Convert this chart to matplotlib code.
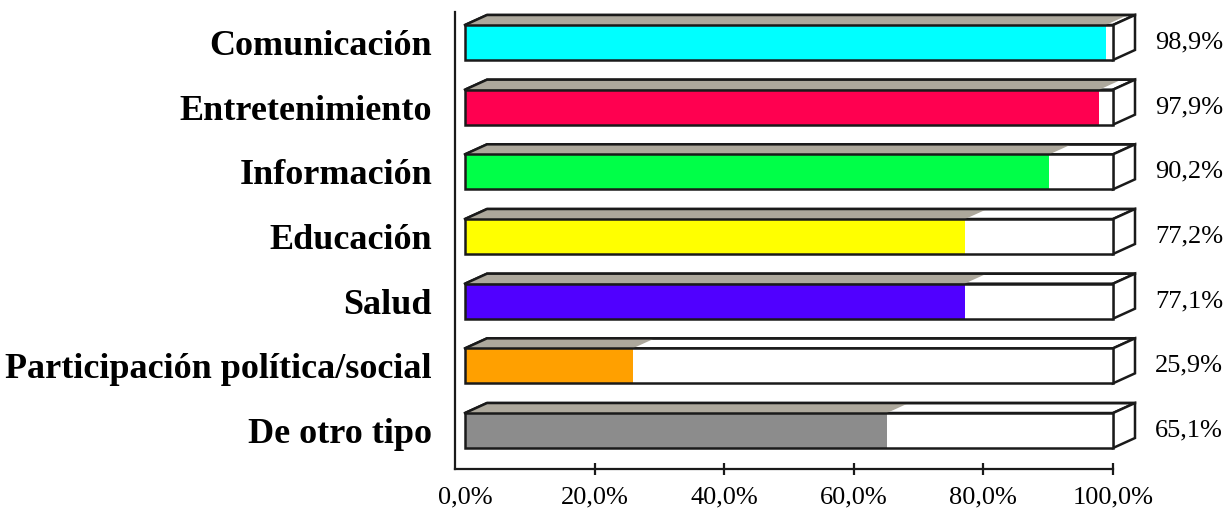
import matplotlib.pyplot as plt
from matplotlib.patches import Polygon, Rectangle

categories = ['Comunicación', 'Entretenimiento', 'Información', 'Educación',
              'Salud', 'Participación política/social', 'De otro tipo']
values = [98.9, 97.9, 90.2, 77.2, 77.1, 25.9, 65.1]
colors = ['#00FFFF', '#FF0050', '#00FF48', '#FFFF00', '#5000FF', '#FFA000', '#8C8C8C']
ticks = [0, 20, 40, 60, 80, 100]
tick_labels = ['0,0%', '20,0%', '40,0%', '60,0%', '80,0%', '100,0%']

W, H = 1223, 512
fig = plt.figure(figsize=(W / 100, H / 100), dpi=100)

# axes placed in pixel terms: spine at x=455, bars 0% at 465, 100% at 1113
px_per_unit = (1113 - 465) / 100
left_px, right_px = 455, 1150
top_px, bottom_px = 12, 469
ax = fig.add_axes([left_px / W, 1 - bottom_px / H,
                   (right_px - left_px) / W, (bottom_px - top_px) / H])
ax.set_xlim((left_px - 465) / px_per_unit, (right_px - 465) / px_per_unit)

pitch = 64.7
ax.set_ylim(6 + 38.5 / pitch, -30.5 / pitch)

bar_h = 35 / pitch
dx = 22 / px_per_unit
dy = 10 / pitch
edge = '#1a1a1a'
lw = 1.8
top_gray = '#ADA89C'

for i, (v, c) in enumerate(zip(values, colors)):
    top = i - bar_h / 2
    bot = i + bar_h / 2
    # top face and right side of the full 100% box
    ax.add_patch(Polygon([(0, top), (dx, top - dy), (100 + dx, top - dy), (100, top)],
                         closed=True, facecolor='white', edgecolor=edge, lw=lw, zorder=2))
    ax.add_patch(Polygon([(100, top), (100 + dx, top - dy), (100 + dx, bot - dy), (100, bot)],
                         closed=True, facecolor='white', edgecolor=edge, lw=lw, zorder=2))
    # shaded top of the filled part
    ax.add_patch(Polygon([(0, top), (dx, top - dy), (v + dx, top - dy), (v, top)],
                         closed=True, facecolor=top_gray, edgecolor='none', zorder=3))
    ax.plot([0, dx, 100 + dx], [top, top - dy, top - dy], color=edge, lw=lw, zorder=4,
            solid_joinstyle='miter')
    # front face
    ax.add_patch(Rectangle((0, top), 100, bar_h, facecolor='white', edgecolor='none', zorder=3))
    ax.add_patch(Rectangle((0, top), v, bar_h, facecolor=c, edgecolor='none', zorder=3))
    ax.add_patch(Rectangle((0, top), 100, bar_h, facecolor='none', edgecolor=edge, lw=lw, zorder=4))
    ax.text(103.1 + dx, i, f'{v:.1f}%'.replace('.', ','), va='center', ha='left',
            fontsize=19, family='Liberation Serif', color='black')

ax.set_yticks(range(len(categories)))
ax.set_yticklabels(categories, fontsize=26, fontweight='bold', family='Liberation Serif')
ax.tick_params(axis='y', length=0, pad=16.5)

ax.set_xticks(ticks)
ax.set_xticklabels(tick_labels, fontsize=19, family='Liberation Serif')
ax.tick_params(axis='x', direction='inout', length=9, width=1.6, color=edge, pad=8)
ax.xaxis.get_major_ticks()[0].tick1line.set_visible(False)

for s in ['top', 'right']:
    ax.spines[s].set_visible(False)
ax.spines['left'].set_linewidth(1.6)
ax.spines['bottom'].set_linewidth(1.6)
ax.spines['left'].set_color(edge)
ax.spines['bottom'].set_color(edge)
ax.spines['bottom'].set_bounds(ax.get_xlim()[0], 100)

fig.savefig('out.png', dpi=100)
